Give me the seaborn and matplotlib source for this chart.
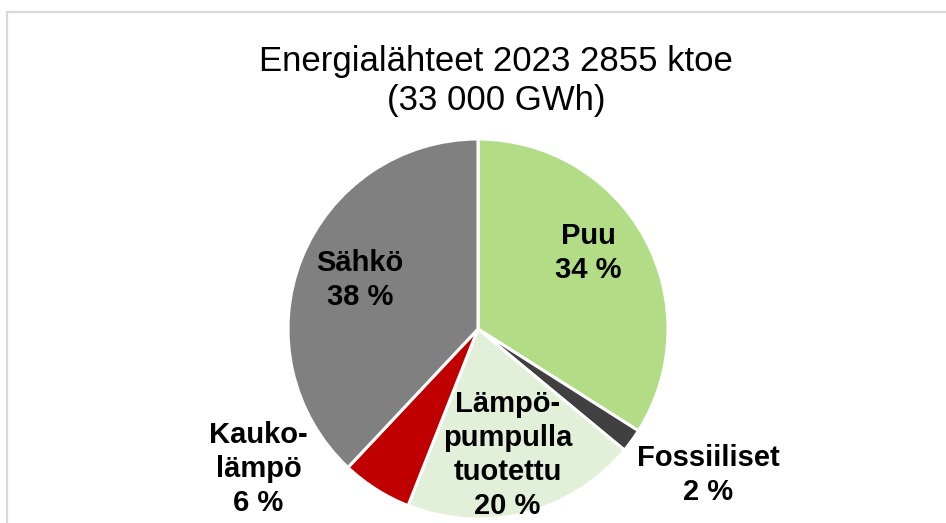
import matplotlib
matplotlib.use("Agg")
import matplotlib.pyplot as plt
import seaborn as sns
from matplotlib.patches import Rectangle

sns.set_theme(style="white")
plt.rcParams['font.family'] = ['Liberation Sans', 'DejaVu Sans']

# data, clockwise from 12 o'clock
sources = ['Puu', 'Fossiiliset', 'Lämpö-\npumpulla\ntuotettu', 'Kauko-\nlämpö', 'Sähkö']
shares = [34, 2, 20, 6, 38]
colors = ['#b2dd86', '#404040', '#e2f0d9', '#c00000', '#808080']
title = 'Energialähteet 2023 2855 ktoe\n(33 000 GWh)'

# label positions in pie units (layout only)
label_pos = [(0.58, 0.40), (1.21, -0.77), (0.155, -0.665), (-1.155, -0.737), (-0.62, 0.26)]

fig = plt.figure(figsize=(9.46, 5.23), dpi=100)
fig.patch.set_facecolor('white')

# chart area frame (cut off at right and bottom like the source)
fig.patches.append(Rectangle((6.5 / 946, -0.05), 1.2, 1 - 12 / 523 + 0.05,
                             transform=fig.transFigure, fill=False,
                             edgecolor='#d9d9d9', linewidth=1.6))

ax = fig.add_axes([288 / 946, 4 / 523, 380 / 946, 380 / 523])
ax.pie(shares, colors=colors, startangle=90, counterclock=False, radius=1,
       wedgeprops=dict(edgecolor='white', linewidth=2.2))
ax.set_xlim(-1, 1)
ax.set_ylim(-1, 1)
ax.set_aspect('equal')
ax.axis('off')

for name, val, (x, y) in zip(sources, shares, label_pos):
    ax.text(x, y, f'{name}\n{val} %', ha='center', va='center', fontsize=21,
            fontweight='bold', color='black', linespacing=1.27, clip_on=False)

fig.text(496 / 946, 1 - 81 / 523, title, ha='center', va='center', fontsize=25,
         color='black', linespacing=1.22)

fig.savefig('out.png', dpi=100)
